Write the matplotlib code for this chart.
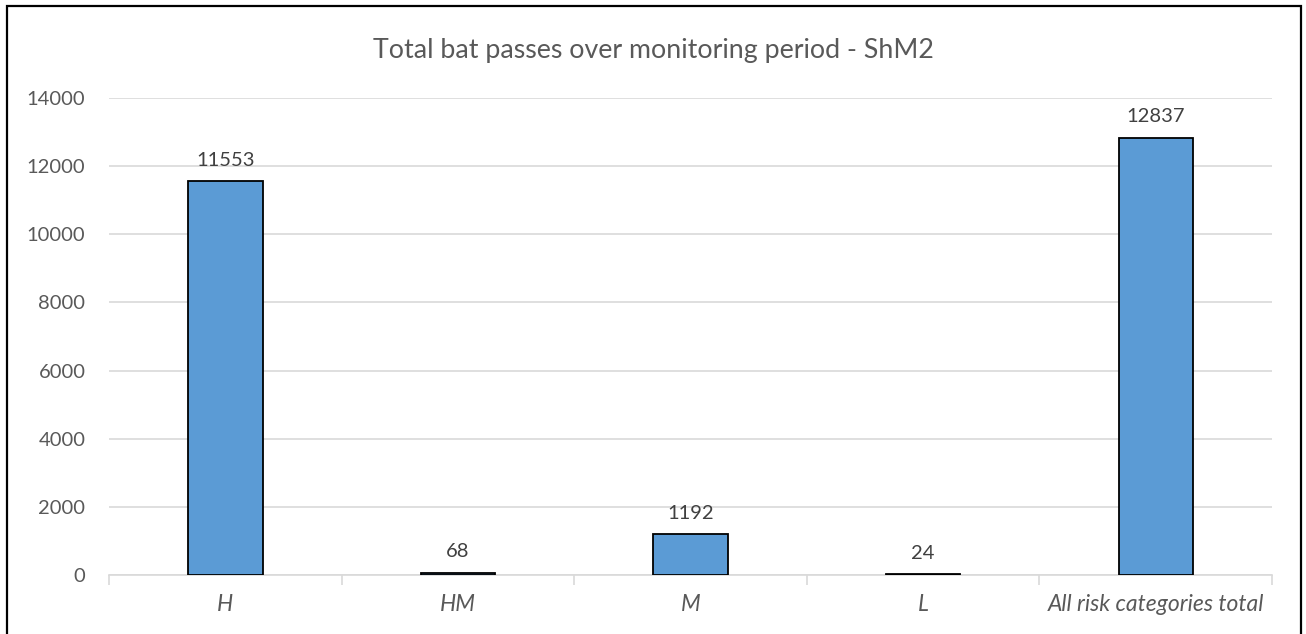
import matplotlib.pyplot as plt
import numpy as np
from matplotlib.patches import Rectangle

categories = ["H", "HM", "M", "L", "All risk categories total"]
passes = [11553, 68, 1192, 24, 12837]
y_ticks = list(range(0, 14001, 2000))
title = "Total bat passes over monitoring period - ShM2"

TEXT = "#595959"
GRID = "#D9D9D9"
BAR = "#5B9BD5"


def main():
    plt.rcParams["font.family"] = ["Lato", "DejaVu Sans"]
    fig = plt.figure(figsize=(13.06, 6.34), dpi=100)
    ax = fig.add_axes([0.0835, 0.093, 0.8905, 0.7525])

    x = np.arange(len(categories))
    bars = ax.bar(x, passes, width=0.32, color=BAR, edgecolor="black",
                  linewidth=1.3, zorder=3)
    for b, v in zip(bars, passes):
        ax.annotate(str(v), (b.get_x() + b.get_width() / 2, v),
                    xytext=(0, 9), textcoords="offset points",
                    ha="center", va="bottom", fontsize=14.5, color="#404040")

    ax.set_xlim(-0.5, len(categories) - 0.5)
    ax.set_ylim(0, 14000)
    ax.set_yticks(y_ticks)
    ax.yaxis.grid(True, color=GRID, linewidth=1.2, zorder=0)
    ax.set_axisbelow(True)

    ax.set_xticks(x)
    ax.set_xticklabels(categories, fontsize=16.5, style="italic", color=TEXT)
    ax.set_xticks(np.arange(-0.5, len(categories)), minor=True)
    ax.tick_params(axis="x", which="major", length=0, pad=14)
    ax.tick_params(axis="x", which="minor", length=7, color=GRID, width=1.2)
    ax.tick_params(axis="y", length=0, pad=17, labelsize=14.5, labelcolor=TEXT)

    for s in ["top", "right", "left"]:
        ax.spines[s].set_visible(False)
    ax.spines["bottom"].set_color(GRID)
    ax.spines["bottom"].set_linewidth(1.2)

    fig.text(0.5, 0.921, title, ha="center", va="center", fontsize=19.3,
             color=TEXT)

    fig.patches.append(Rectangle((0.005, -0.05), 0.991, 1.04,
                                 transform=fig.transFigure, fill=False,
                                 edgecolor="black", linewidth=1.6))

    fig.savefig("out.png", dpi=100)


if __name__ == "__main__":
    main()
